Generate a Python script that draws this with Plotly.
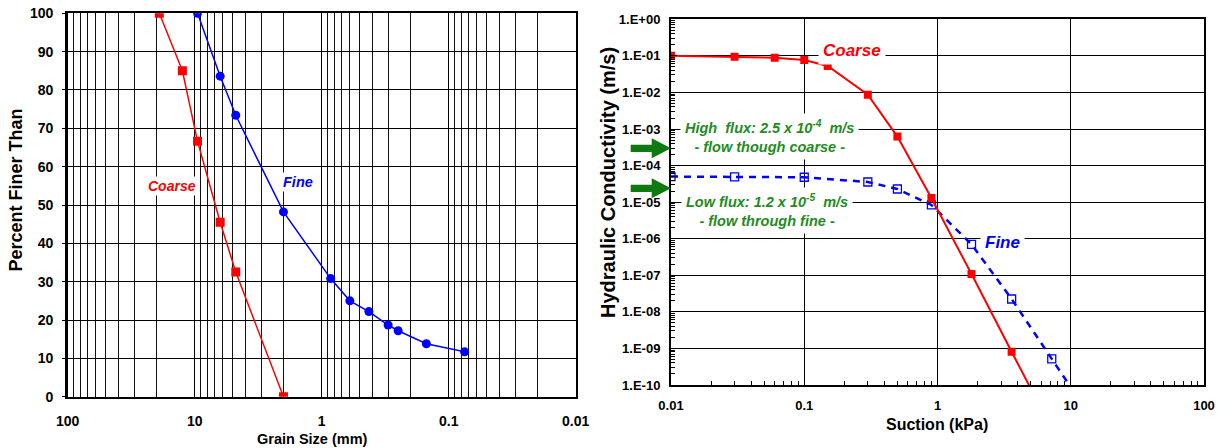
import plotly.graph_objects as go

W, H = 1223, 448

# ---- Grain size distribution (left) ----
coarse_size = [19, 12.5, 9.5, 6.3, 4.75, 2.0]
coarse_pct = [100, 85, 66.6, 45.5, 32.5, 0]
fine_size = [9.5, 6.3, 4.75, 2.0, 0.85, 0.6, 0.425, 0.3, 0.25, 0.15, 0.075]
fine_pct = [100, 83.6, 73.4, 48.2, 30.8, 25.0, 22.2, 18.7, 17.2, 13.8, 11.7]
grain_ticks = [100, 10, 1, 0.1, 0.01]
grain_ticktext = ["100", "10", "1", "0.1", "0.01"]
pct_ticks = list(range(0, 101, 10))

# ---- Hydraulic conductivity functions (right) ----
suction_coarse = [0.01, 0.03, 0.06, 0.1, 0.15, 0.3, 0.5, 0.9, 1.8, 3.6, 7.2]
k_coarse = [0.1, 0.095, 0.089, 0.077, 0.053, 0.0087, 6.2e-4, 1.3e-5, 1.08e-7, 8.1e-10, 6.3e-12]
suction_fine = [0.01, 0.03, 0.1, 0.3, 0.5, 0.9, 1.8, 3.6, 7.2, 14.4]
k_fine = [5.0e-5, 4.9e-5, 4.8e-5, 3.56e-5, 2.29e-5, 8.4e-6, 7.0e-7, 2.25e-8, 5.2e-10, 1.2e-11]
suction_ticks = [0.01, 0.1, 1, 10, 100]
suction_ticktext = ["0.01", "0.1", "1", "10", "100"]
k_ticks = [10.0 ** (-i) for i in range(0, 11)]
k_ticktext = ["1.E+00"] + ["1.E-%02d" % i for i in range(1, 11)]

FONT = "Arial, Liberation Sans, sans-serif"
RED = "#FF0000"
BLUE = "#0000FF"
GREEN = "#1E8C1E"
ARROW_GREEN = "#0F7A0F"


def px(x, y):
    return x / W, 1 - y / H


minor_grain = [m * 10.0 ** e for e in range(-2, 2) for m in range(2, 10)]
minor_suction = [m * 10.0 ** e for e in range(-2, 2) for m in range(2, 10)]
minor_k = [m * 10.0 ** e for e in range(-10, 0) for m in range(2, 10)]

fig = go.Figure()

fig.add_trace(go.Scatter(x=coarse_size, y=coarse_pct, mode="lines+markers",
                         line=dict(color=RED, width=1.5),
                         marker=dict(symbol="square", size=9, color=RED),
                         xaxis="x", yaxis="y", showlegend=False))
fig.add_trace(go.Scatter(x=fine_size, y=fine_pct, mode="lines+markers",
                         line=dict(color=BLUE, width=1.5),
                         marker=dict(symbol="circle", size=9, color=BLUE),
                         xaxis="x", yaxis="y", showlegend=False))

fig.add_trace(go.Scatter(x=suction_fine, y=k_fine, mode="lines+markers",
                         line=dict(color=BLUE, width=2.5, dash="7px,6px"),
                         marker=dict(symbol="square-open", size=8, color=BLUE,
                                     line=dict(width=1.3, color=BLUE)),
                         xaxis="x2", yaxis="y2", showlegend=False))
fig.add_trace(go.Scatter(x=suction_coarse, y=k_coarse, mode="lines+markers",
                         line=dict(color=RED, width=2),
                         marker=dict(symbol="square", size=8, color=RED),
                         xaxis="x2", yaxis="y2", showlegend=False))

axis_common = dict(showline=True, linecolor="black", mirror=True, zeroline=False,
                   automargin=False, layer="above traces")

fig.update_layout(
    template="none",
    width=W, height=H, autosize=False,
    margin=dict(l=0, r=0, t=0, b=0, autoexpand=False),
    paper_bgcolor="white", plot_bgcolor="white",
    font=dict(family=FONT, color="black"),
    hovermode=False,
    xaxis=dict(type="log", range=[2, -2], domain=[67.7 / W, 575.7 / W],
               tickmode="array",
               tickvals=grain_ticks, ticktext=["<b>%s</b>" % t for t in grain_ticktext],
               tickfont=dict(size=14, family=FONT), ticks="", ticklabelstandoff=10,
               showgrid=True, gridcolor="black", gridwidth=1,
               minor=dict(tickmode="array", tickvals=minor_grain, showgrid=True,
                          gridcolor="#111111", gridwidth=1, ticks=""),
               linewidth=2.5, anchor="y", **axis_common),
    yaxis=dict(range=[0, 100], domain=[1 - 396.7 / H, 1 - 13.3 / H],
               tickmode="array",
               tickvals=pct_ticks, ticktext=["<b>%d</b>" % v for v in pct_ticks],
               tickfont=dict(size=14, family=FONT), ticks="outside", ticklen=3,
               tickcolor="black", ticklabelstandoff=6,
               showgrid=True, gridcolor="black", gridwidth=1,
               linewidth=2.5, anchor="x", **axis_common),
    xaxis2=dict(type="log", range=[-2, 2], domain=[671 / W, 1204 / W],
                tickmode="array",
                tickvals=suction_ticks, ticktext=["<b>%s</b>" % t for t in suction_ticktext],
                tickfont=dict(size=13, family=FONT), ticks="inside", ticklen=6,
                tickcolor="black", ticklabelstandoff=7,
                showgrid=True, gridcolor="black", gridwidth=1,
                minor=dict(tickmode="array", tickvals=minor_suction, ticks="inside",
                           ticklen=4, tickcolor="black", showgrid=False),
                linewidth=2, anchor="y2", **axis_common),
    yaxis2=dict(type="log", range=[-10, 0], domain=[1 - 385 / H, 1 - 19.3 / H],
                tickmode="array",
                tickvals=k_ticks, ticktext=["<b>%s</b>" % t for t in k_ticktext],
                tickfont=dict(size=13, family=FONT), ticks="inside", ticklen=6,
                tickcolor="black", ticklabelstandoff=6,
                showgrid=True, gridcolor="black", gridwidth=1,
                minor=dict(tickmode="array", tickvals=minor_k, ticks="inside",
                           ticklen=4, tickcolor="black", showgrid=False),
                linewidth=2, anchor="x2", **axis_common),
)

annotations = []


def add_text(text, x, y, size, color="black", italic=False, bg=None, angle=0, pad=1):
    xx, yy = px(x, y)
    if italic:
        text = "<i>%s</i>" % text
    ann = dict(text="<b>%s</b>" % text, x=xx, y=yy, xref="paper", yref="paper",
               showarrow=False, xanchor="center", yanchor="middle",
               font=dict(size=size, color=color, family=FONT),
               textangle=angle, borderpad=pad)
    if bg:
        ann["bgcolor"] = bg
    annotations.append(ann)


# axis titles
add_text("Percent Finer Than", 15, 190.5, 18, angle=-90)
add_text("Grain Size (mm)", 312, 438.5, 14.5)
add_text("Hydraulic Conductivity (m/s)", 608, 183, 20, angle=-90)
add_text("Suction (kPa)", 937, 424, 16)

# series labels
add_text("Coarse", 172.5, 186, 14, RED, True, "white")
add_text("Fine", 297.7, 182, 14.5, BLUE, True, "white")
add_text("Coarse", 851.5, 51, 17, RED, True, "white", pad=4)
add_text("Fine", 1002, 242, 17, BLUE, True, "white", pad=4)

# flux notes
add_text("High  flux: 2.5 x 10<sup>-4</sup>  m/s<br>- flow though coarse -", 769, 136, 14.5, GREEN, True, "white", pad=4)
add_text("Low flux: 1.2 x 10<sup>-5</sup>  m/s<br>- flow through fine -", 767, 211, 14.5, GREEN, True, "white", pad=4)

fig.update_layout(annotations=annotations)

# green arrows (decorative shapes)
shapes = []
for cy in (148.3, 188.3):
    pts = [(630.7, cy - 3.6), (651.7, cy - 3.6), (651.7, cy - 10), (671, cy),
           (651.7, cy + 10), (651.7, cy + 3.6), (630.7, cy + 3.6)]
    path = "M " + " L ".join("%.5f,%.5f" % px(x, y) for x, y in pts) + " Z"
    shapes.append(dict(type="path", path=path, xref="paper", yref="paper",
                       fillcolor=ARROW_GREEN, line=dict(width=0), layer="above"))
fig.update_layout(shapes=shapes)

fig.write_html("out.html", config={"displayModeBar": False, "staticPlot": True},
               post_script="document.body.style.margin='0';document.body.style.overflow='hidden';")
